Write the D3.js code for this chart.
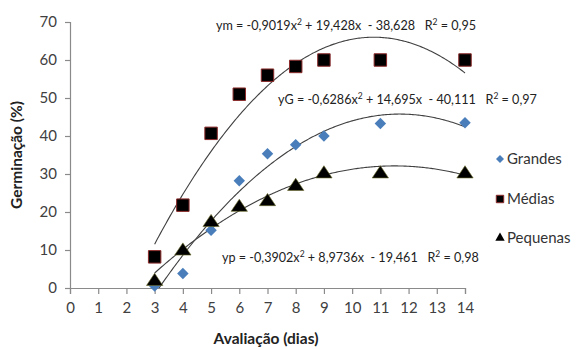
<!DOCTYPE html>
<html><head><meta charset="utf-8">
<script src="https://cdn.jsdelivr.net/npm/d3@7"></script>
<style>body{margin:0;background:#fff}svg{display:block}</style>
</head><body>
<svg id="c" width="576" height="349"></svg>
<script>
const days = [3,4,5,6,7,8,9,11,14];
const grandes = [0.5,3.8,15.2,28.2,35.3,37.7,40,43.3,43.5];
const medias = [8.2,21.8,40.7,51,56,58.3,60,60,60];
const pequenas = [2,10,17.5,21.5,23,27,30.3,30.3,30.3];
const xTicks = [0,1,2,3,4,5,6,7,8,9,10,11,12,13,14];
const yTicks = [0,10,20,30,40,50,60,70];
// trendline coefficients [a,b,c] for a x^2 + b x + c, as printed on the chart
const coefM = [-0.9019,19.428,-38.628];
const coefG = [-0.6286,14.695,-40.111];
const coefP = [-0.3902,8.9736,-19.461];
const eqM = ["ym = -0,9019x", " + 19,428x  - 38,628   R", " = 0,95"];
const eqG = ["yG = -0,6286x", " + 14,695x  - 40,111   R", " = 0,97"];
const eqP = ["yp = -0,3902x", " + 8,9736x  - 19,461   R", " = 0,98"];
const seriesNames = ["Grandes","Médias","Pequenas"];

const svg = d3.select("#c");
const font = "Lato, 'Open Sans', sans-serif";
const x = d3.scaleLinear().domain([0,14]).range([70,465]);
const y = d3.scaleLinear().domain([0,70]).range([288,22]);
const axisCol = "#8a8a8a";

const gx = svg.append("g").attr("transform","translate(0,288)")
  .call(d3.axisBottom(x).tickValues(xTicks).tickSize(6).tickPadding(8).tickFormat(d3.format("d")));
const gy = svg.append("g").attr("transform","translate(70,0)")
  .call(d3.axisLeft(y).tickValues(yTicks).tickSize(5).tickPadding(8).tickFormat(d3.format("d")));
[gx,gy].forEach(g=>{
  g.selectAll("path,line").attr("stroke",axisCol).attr("stroke-width",1.2);
  g.selectAll("text").attr("font-family",font).attr("font-size",15).attr("fill","#404040");
});

svg.append("text").attr("x",266).attr("y",344).attr("text-anchor","middle")
  .attr("font-family",font).attr("font-weight","bold").attr("font-size",15.5).attr("fill","#222")
  .text("Avaliação (dias)");
svg.append("text").attr("transform","translate(22,155) rotate(-90)").attr("text-anchor","middle")
  .attr("font-family",font).attr("font-weight","bold").attr("font-size",15.5).attr("fill","#222")
  .text("Germinação (%)");

svg.append("clipPath").attr("id","clip").append("rect")
  .attr("x",70).attr("y",0).attr("width",420).attr("height",288);
const xs = d3.range(3,14.001,0.05);
const line = d3.line().x(d=>x(d[0])).y(d=>y(d[1]));
[coefM,coefG,coefP].forEach(c=>{
  svg.append("path").attr("clip-path","url(#clip)")
    .attr("d", line(xs.map(v=>[v, c[0]*v*v + c[1]*v + c[2]])))
    .attr("fill","none").attr("stroke","#404040").attr("stroke-width",1.1);
});

const sq = d3.symbol().type(d3.symbolSquare).size(155);
const di = d3.symbol().type(d3.symbolSquare).size(66);
const tr = d3.symbol().type(d3.symbolTriangle).size(95);
svg.append("g").selectAll("path").data(days.map((d,i)=>[d,medias[i]])).join("path")
  .attr("d",sq).attr("transform",d=>`translate(${x(d[0])},${y(d[1])})`)
  .attr("fill","#000").attr("stroke","#8b2a2a").attr("stroke-width",1);
svg.append("g").selectAll("path").data(days.map((d,i)=>[d,grandes[i]])).join("path")
  .attr("d",di).attr("transform",d=>`translate(${x(d[0])},${y(d[1])}) rotate(45)`)
  .attr("fill","#4a7ebb");
svg.append("g").selectAll("path").data(days.map((d,i)=>[d,pequenas[i]])).join("path")
  .attr("d",tr).attr("transform",d=>`translate(${x(d[0])},${y(d[1])+1}) scale(1.1,0.95)`)
  .attr("fill","#000").attr("stroke","#6b6b2a").attr("stroke-width",0.6);

function eq(parts, xx, yy){
  const t = svg.append("text").attr("x",xx).attr("y",yy)
    .attr("font-family",font).attr("font-size",12.6).attr("fill","#222")
    .attr("xml:space","preserve").style("white-space","pre");
  t.append("tspan").text(parts[0]);
  t.append("tspan").attr("dy",-5).attr("font-size",8.5).text("2");
  t.append("tspan").attr("dy",5).text(parts[1]);
  t.append("tspan").attr("dy",-5).attr("font-size",8.5).text("2");
  t.append("tspan").attr("dy",5).text(parts[2]);
}
eq(eqM, 216, 30);
eq(eqG, 278, 104);
eq(eqP, 222, 262);

const legY = [159,199,238];
const legSyms = [
  {d:d3.symbol().type(d3.symbolSquare).size(32)(), rot:45, fill:"#4a7ebb", stroke:"none"},
  {d:d3.symbol().type(d3.symbolSquare).size(55)(), rot:0, fill:"#000", stroke:"#8b2a2a"},
  {d:d3.symbol().type(d3.symbolTriangle).size(38)(), rot:0, fill:"#000", stroke:"none"}
];
seriesNames.forEach((n,i)=>{
  const s = legSyms[i];
  svg.append("path").attr("d",s.d).attr("transform",`translate(500,${legY[i]}) rotate(${s.rot})`)
    .attr("fill",s.fill).attr("stroke",s.stroke);
  svg.append("text").attr("x",507).attr("y",legY[i]+5).attr("font-family",font)
    .attr("font-size",15).attr("fill","#333").text(n);
});
</script>
</body></html>
